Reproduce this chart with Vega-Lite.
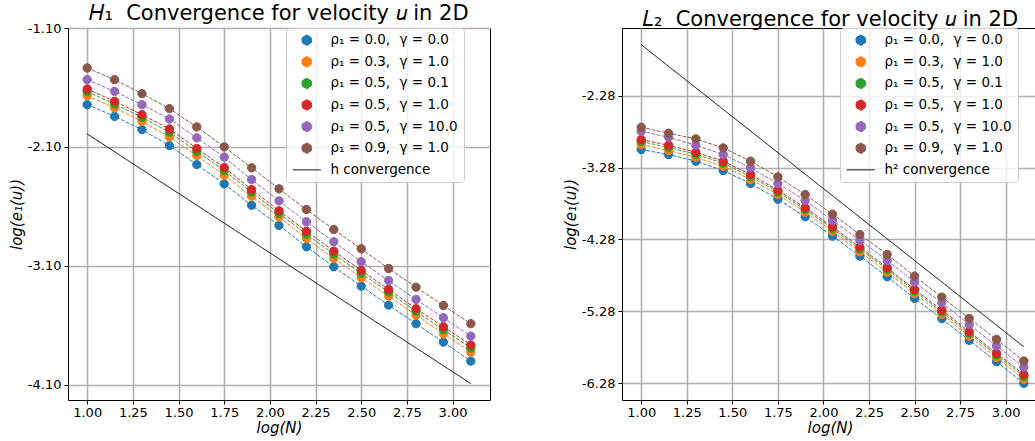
{
  "$schema": "https://vega.github.io/schema/vega-lite/v6.json",
  "padding": {"left": 8, "top": 2, "right": 0, "bottom": 0},
  "background": "white",
  "config": {
    "font": "DejaVu Sans",
    "view": {"stroke": "black", "strokeWidth": 1},
    "axis": {"grid": true, "gridColor": "#b0b0b0", "gridWidth": 1.6, "domain": false, "tickColor": "black", "tickSize": 4, "tickWidth": 1, "labelColor": "black", "labelFont": "DejaVu Sans", "labelFontSize": 13, "labelPadding": 2, "titleFont": "DejaVu Sans", "titleFontSize": 15, "titleFontWeight": "normal", "titleFontStyle": "italic", "titleColor": "black", "labelFlush": false, "labelOverlap": false},
    "axisY": {"labelPadding": 3, "minExtent": 40, "maxExtent": 40, "titlePadding": 4},
    "axisX": {"titlePadding": 1},
    "title": {"font": "DejaVu Sans", "fontSize": 21, "fontWeight": "normal", "color": "black", "offset": -2, "anchor": "middle"},
    "legend": {"orient": "none", "legendX": 218, "legendY": 0, "padding": 5.5, "fillColor": "rgba(255,255,255,0.8)", "strokeColor": "#cccccc", "strokeWidth": 1, "cornerRadius": 3, "labelFont": "DejaVu Sans", "labelFontSize": 13.5, "labelColor": "black", "labelOffset": 17, "labelLimit": 300, "symbolSize": 100, "symbolStrokeWidth": 1, "symbolOffset": 8.5, "rowPadding": 6.6}
  },
  "data": {"values": [
    {"panel":"H1","series":"ρ₁ = 0.0,\u2002\u2009γ = 0.0","x":1.0,"y":-1.745},{"panel":"H1","series":"ρ₁ = 0.0,\u2002\u2009γ = 0.0","x":1.15,"y":-1.843},{"panel":"H1","series":"ρ₁ = 0.0,\u2002\u2009γ = 0.0","x":1.3,"y":-1.955},{"panel":"H1","series":"ρ₁ = 0.0,\u2002\u2009γ = 0.0","x":1.45,"y":-2.089},{"panel":"H1","series":"ρ₁ = 0.0,\u2002\u2009γ = 0.0","x":1.6,"y":-2.249},{"panel":"H1","series":"ρ₁ = 0.0,\u2002\u2009γ = 0.0","x":1.75,"y":-2.411},{"panel":"H1","series":"ρ₁ = 0.0,\u2002\u2009γ = 0.0","x":1.9,"y":-2.591},{"panel":"H1","series":"ρ₁ = 0.0,\u2002\u2009γ = 0.0","x":2.05,"y":-2.76},{"panel":"H1","series":"ρ₁ = 0.0,\u2002\u2009γ = 0.0","x":2.2,"y":-2.94},{"panel":"H1","series":"ρ₁ = 0.0,\u2002\u2009γ = 0.0","x":2.35,"y":-3.108},{"panel":"H1","series":"ρ₁ = 0.0,\u2002\u2009γ = 0.0","x":2.5,"y":-3.271},{"panel":"H1","series":"ρ₁ = 0.0,\u2002\u2009γ = 0.0","x":2.65,"y":-3.431},{"panel":"H1","series":"ρ₁ = 0.0,\u2002\u2009γ = 0.0","x":2.8,"y":-3.587},{"panel":"H1","series":"ρ₁ = 0.0,\u2002\u2009γ = 0.0","x":2.95,"y":-3.742},{"panel":"H1","series":"ρ₁ = 0.0,\u2002\u2009γ = 0.0","x":3.1,"y":-3.902},
    {"panel":"H1","series":"ρ₁ = 0.3,\u2002\u2009γ = 1.0","x":1.0,"y":-1.669},{"panel":"H1","series":"ρ₁ = 0.3,\u2002\u2009γ = 1.0","x":1.15,"y":-1.772},{"panel":"H1","series":"ρ₁ = 0.3,\u2002\u2009γ = 1.0","x":1.3,"y":-1.885},{"panel":"H1","series":"ρ₁ = 0.3,\u2002\u2009γ = 1.0","x":1.45,"y":-2.016},{"panel":"H1","series":"ρ₁ = 0.3,\u2002\u2009γ = 1.0","x":1.6,"y":-2.173},{"panel":"H1","series":"ρ₁ = 0.3,\u2002\u2009γ = 1.0","x":1.75,"y":-2.339},{"panel":"H1","series":"ρ₁ = 0.3,\u2002\u2009γ = 1.0","x":1.9,"y":-2.515},{"panel":"H1","series":"ρ₁ = 0.3,\u2002\u2009γ = 1.0","x":2.05,"y":-2.69},{"panel":"H1","series":"ρ₁ = 0.3,\u2002\u2009γ = 1.0","x":2.2,"y":-2.871},{"panel":"H1","series":"ρ₁ = 0.3,\u2002\u2009γ = 1.0","x":2.35,"y":-3.039},{"panel":"H1","series":"ρ₁ = 0.3,\u2002\u2009γ = 1.0","x":2.5,"y":-3.201},{"panel":"H1","series":"ρ₁ = 0.3,\u2002\u2009γ = 1.0","x":2.65,"y":-3.355},{"panel":"H1","series":"ρ₁ = 0.3,\u2002\u2009γ = 1.0","x":2.8,"y":-3.515},{"panel":"H1","series":"ρ₁ = 0.3,\u2002\u2009γ = 1.0","x":2.95,"y":-3.672},{"panel":"H1","series":"ρ₁ = 0.3,\u2002\u2009γ = 1.0","x":3.1,"y":-3.826},
    {"panel":"H1","series":"ρ₁ = 0.5,\u2002\u2009γ = 0.1","x":1.0,"y":-1.635},{"panel":"H1","series":"ρ₁ = 0.5,\u2002\u2009γ = 0.1","x":1.15,"y":-1.739},{"panel":"H1","series":"ρ₁ = 0.5,\u2002\u2009γ = 0.1","x":1.3,"y":-1.851},{"panel":"H1","series":"ρ₁ = 0.5,\u2002\u2009γ = 0.1","x":1.45,"y":-1.976},{"panel":"H1","series":"ρ₁ = 0.5,\u2002\u2009γ = 0.1","x":1.6,"y":-2.138},{"panel":"H1","series":"ρ₁ = 0.5,\u2002\u2009γ = 0.1","x":1.75,"y":-2.299},{"panel":"H1","series":"ρ₁ = 0.5,\u2002\u2009γ = 0.1","x":1.9,"y":-2.481},{"panel":"H1","series":"ρ₁ = 0.5,\u2002\u2009γ = 0.1","x":2.05,"y":-2.659},{"panel":"H1","series":"ρ₁ = 0.5,\u2002\u2009γ = 0.1","x":2.2,"y":-2.834},{"panel":"H1","series":"ρ₁ = 0.5,\u2002\u2009γ = 0.1","x":2.35,"y":-3.002},{"panel":"H1","series":"ρ₁ = 0.5,\u2002\u2009γ = 0.1","x":2.5,"y":-3.164},{"panel":"H1","series":"ρ₁ = 0.5,\u2002\u2009γ = 0.1","x":2.65,"y":-3.321},{"panel":"H1","series":"ρ₁ = 0.5,\u2002\u2009γ = 0.1","x":2.8,"y":-3.483},{"panel":"H1","series":"ρ₁ = 0.5,\u2002\u2009γ = 0.1","x":2.95,"y":-3.637},{"panel":"H1","series":"ρ₁ = 0.5,\u2002\u2009γ = 0.1","x":3.1,"y":-3.791},
    {"panel":"H1","series":"ρ₁ = 0.5,\u2002\u2009γ = 1.0","x":1.0,"y":-1.613},{"panel":"H1","series":"ρ₁ = 0.5,\u2002\u2009γ = 1.0","x":1.15,"y":-1.717},{"panel":"H1","series":"ρ₁ = 0.5,\u2002\u2009γ = 1.0","x":1.3,"y":-1.829},{"panel":"H1","series":"ρ₁ = 0.5,\u2002\u2009γ = 1.0","x":1.45,"y":-1.949},{"panel":"H1","series":"ρ₁ = 0.5,\u2002\u2009γ = 1.0","x":1.6,"y":-2.114},{"panel":"H1","series":"ρ₁ = 0.5,\u2002\u2009γ = 1.0","x":1.75,"y":-2.273},{"panel":"H1","series":"ρ₁ = 0.5,\u2002\u2009γ = 1.0","x":1.9,"y":-2.459},{"panel":"H1","series":"ρ₁ = 0.5,\u2002\u2009γ = 1.0","x":2.05,"y":-2.638},{"panel":"H1","series":"ρ₁ = 0.5,\u2002\u2009γ = 1.0","x":2.2,"y":-2.809},{"panel":"H1","series":"ρ₁ = 0.5,\u2002\u2009γ = 1.0","x":2.35,"y":-2.977},{"panel":"H1","series":"ρ₁ = 0.5,\u2002\u2009γ = 1.0","x":2.5,"y":-3.139},{"panel":"H1","series":"ρ₁ = 0.5,\u2002\u2009γ = 1.0","x":2.65,"y":-3.299},{"panel":"H1","series":"ρ₁ = 0.5,\u2002\u2009γ = 1.0","x":2.8,"y":-3.461},{"panel":"H1","series":"ρ₁ = 0.5,\u2002\u2009γ = 1.0","x":2.95,"y":-3.613},{"panel":"H1","series":"ρ₁ = 0.5,\u2002\u2009γ = 1.0","x":3.1,"y":-3.767},
    {"panel":"H1","series":"ρ₁ = 0.5,\u2002\u2009γ = 10.0","x":1.0,"y":-1.534},{"panel":"H1","series":"ρ₁ = 0.5,\u2002\u2009γ = 10.0","x":1.15,"y":-1.633},{"panel":"H1","series":"ρ₁ = 0.5,\u2002\u2009γ = 10.0","x":1.3,"y":-1.745},{"panel":"H1","series":"ρ₁ = 0.5,\u2002\u2009γ = 10.0","x":1.45,"y":-1.865},{"panel":"H1","series":"ρ₁ = 0.5,\u2002\u2009γ = 10.0","x":1.6,"y":-2.024},{"panel":"H1","series":"ρ₁ = 0.5,\u2002\u2009γ = 10.0","x":1.75,"y":-2.186},{"panel":"H1","series":"ρ₁ = 0.5,\u2002\u2009γ = 10.0","x":1.9,"y":-2.375},{"panel":"H1","series":"ρ₁ = 0.5,\u2002\u2009γ = 10.0","x":2.05,"y":-2.554},{"panel":"H1","series":"ρ₁ = 0.5,\u2002\u2009γ = 10.0","x":2.2,"y":-2.73},{"panel":"H1","series":"ρ₁ = 0.5,\u2002\u2009γ = 10.0","x":2.35,"y":-2.898},{"panel":"H1","series":"ρ₁ = 0.5,\u2002\u2009γ = 10.0","x":2.5,"y":-3.066},{"panel":"H1","series":"ρ₁ = 0.5,\u2002\u2009γ = 10.0","x":2.65,"y":-3.224},{"panel":"H1","series":"ρ₁ = 0.5,\u2002\u2009γ = 10.0","x":2.8,"y":-3.383},{"panel":"H1","series":"ρ₁ = 0.5,\u2002\u2009γ = 10.0","x":2.95,"y":-3.537},{"panel":"H1","series":"ρ₁ = 0.5,\u2002\u2009γ = 10.0","x":3.1,"y":-3.692},
    {"panel":"H1","series":"ρ₁ = 0.9,\u2002\u2009γ = 1.0","x":1.0,"y":-1.436},{"panel":"H1","series":"ρ₁ = 0.9,\u2002\u2009γ = 1.0","x":1.15,"y":-1.534},{"panel":"H1","series":"ρ₁ = 0.9,\u2002\u2009γ = 1.0","x":1.3,"y":-1.652},{"panel":"H1","series":"ρ₁ = 0.9,\u2002\u2009γ = 1.0","x":1.45,"y":-1.778},{"panel":"H1","series":"ρ₁ = 0.9,\u2002\u2009γ = 1.0","x":1.6,"y":-1.932},{"panel":"H1","series":"ρ₁ = 0.9,\u2002\u2009γ = 1.0","x":1.75,"y":-2.1},{"panel":"H1","series":"ρ₁ = 0.9,\u2002\u2009γ = 1.0","x":1.9,"y":-2.276},{"panel":"H1","series":"ρ₁ = 0.9,\u2002\u2009γ = 1.0","x":2.05,"y":-2.453},{"panel":"H1","series":"ρ₁ = 0.9,\u2002\u2009γ = 1.0","x":2.2,"y":-2.627},{"panel":"H1","series":"ρ₁ = 0.9,\u2002\u2009γ = 1.0","x":2.35,"y":-2.795},{"panel":"H1","series":"ρ₁ = 0.9,\u2002\u2009γ = 1.0","x":2.5,"y":-2.957},{"panel":"H1","series":"ρ₁ = 0.9,\u2002\u2009γ = 1.0","x":2.65,"y":-3.123},{"panel":"H1","series":"ρ₁ = 0.9,\u2002\u2009γ = 1.0","x":2.8,"y":-3.28},{"panel":"H1","series":"ρ₁ = 0.9,\u2002\u2009γ = 1.0","x":2.95,"y":-3.434},{"panel":"H1","series":"ρ₁ = 0.9,\u2002\u2009γ = 1.0","x":3.1,"y":-3.587},
    {"panel":"H1","series":"h convergence","x":1.0,"y":-1.991},{"panel":"H1","series":"h convergence","x":3.1,"y":-4.091},
    {"panel":"L2","series":"ρ₁ = 0.0,\u2002\u2009γ = 0.0","x":1.0,"y":-3.03},{"panel":"L2","series":"ρ₁ = 0.0,\u2002\u2009γ = 0.0","x":1.15,"y":-3.099},{"panel":"L2","series":"ρ₁ = 0.0,\u2002\u2009γ = 0.0","x":1.3,"y":-3.192},{"panel":"L2","series":"ρ₁ = 0.0,\u2002\u2009γ = 0.0","x":1.45,"y":-3.322},{"panel":"L2","series":"ρ₁ = 0.0,\u2002\u2009γ = 0.0","x":1.6,"y":-3.502},{"panel":"L2","series":"ρ₁ = 0.0,\u2002\u2009γ = 0.0","x":1.75,"y":-3.72},{"panel":"L2","series":"ρ₁ = 0.0,\u2002\u2009γ = 0.0","x":1.9,"y":-3.965},{"panel":"L2","series":"ρ₁ = 0.0,\u2002\u2009γ = 0.0","x":2.05,"y":-4.234},{"panel":"L2","series":"ρ₁ = 0.0,\u2002\u2009γ = 0.0","x":2.2,"y":-4.512},{"panel":"L2","series":"ρ₁ = 0.0,\u2002\u2009γ = 0.0","x":2.35,"y":-4.798},{"panel":"L2","series":"ρ₁ = 0.0,\u2002\u2009γ = 0.0","x":2.5,"y":-5.099},{"panel":"L2","series":"ρ₁ = 0.0,\u2002\u2009γ = 0.0","x":2.65,"y":-5.381},{"panel":"L2","series":"ρ₁ = 0.0,\u2002\u2009γ = 0.0","x":2.8,"y":-5.683},{"panel":"L2","series":"ρ₁ = 0.0,\u2002\u2009γ = 0.0","x":2.95,"y":-5.979},{"panel":"L2","series":"ρ₁ = 0.0,\u2002\u2009γ = 0.0","x":3.1,"y":-6.28},
    {"panel":"L2","series":"ρ₁ = 0.3,\u2002\u2009γ = 1.0","x":1.0,"y":-2.961},{"panel":"L2","series":"ρ₁ = 0.3,\u2002\u2009γ = 1.0","x":1.15,"y":-3.044},{"panel":"L2","series":"ρ₁ = 0.3,\u2002\u2009γ = 1.0","x":1.3,"y":-3.137},{"panel":"L2","series":"ρ₁ = 0.3,\u2002\u2009γ = 1.0","x":1.45,"y":-3.262},{"panel":"L2","series":"ρ₁ = 0.3,\u2002\u2009γ = 1.0","x":1.6,"y":-3.447},{"panel":"L2","series":"ρ₁ = 0.3,\u2002\u2009γ = 1.0","x":1.75,"y":-3.655},{"panel":"L2","series":"ρ₁ = 0.3,\u2002\u2009γ = 1.0","x":1.9,"y":-3.901},{"panel":"L2","series":"ρ₁ = 0.3,\u2002\u2009γ = 1.0","x":2.05,"y":-4.165},{"panel":"L2","series":"ρ₁ = 0.3,\u2002\u2009γ = 1.0","x":2.2,"y":-4.451},{"panel":"L2","series":"ρ₁ = 0.3,\u2002\u2009γ = 1.0","x":2.35,"y":-4.734},{"panel":"L2","series":"ρ₁ = 0.3,\u2002\u2009γ = 1.0","x":2.5,"y":-5.034},{"panel":"L2","series":"ρ₁ = 0.3,\u2002\u2009γ = 1.0","x":2.65,"y":-5.322},{"panel":"L2","series":"ρ₁ = 0.3,\u2002\u2009γ = 1.0","x":2.8,"y":-5.623},{"panel":"L2","series":"ρ₁ = 0.3,\u2002\u2009γ = 1.0","x":2.95,"y":-5.923},{"panel":"L2","series":"ρ₁ = 0.3,\u2002\u2009γ = 1.0","x":3.1,"y":-6.224},
    {"panel":"L2","series":"ρ₁ = 0.5,\u2002\u2009γ = 0.1","x":1.0,"y":-2.919},{"panel":"L2","series":"ρ₁ = 0.5,\u2002\u2009γ = 0.1","x":1.15,"y":-3.0},{"panel":"L2","series":"ρ₁ = 0.5,\u2002\u2009γ = 0.1","x":1.3,"y":-3.095},{"panel":"L2","series":"ρ₁ = 0.5,\u2002\u2009γ = 0.1","x":1.45,"y":-3.22},{"panel":"L2","series":"ρ₁ = 0.5,\u2002\u2009γ = 0.1","x":1.6,"y":-3.405},{"panel":"L2","series":"ρ₁ = 0.5,\u2002\u2009γ = 0.1","x":1.75,"y":-3.619},{"panel":"L2","series":"ρ₁ = 0.5,\u2002\u2009γ = 0.1","x":1.9,"y":-3.864},{"panel":"L2","series":"ρ₁ = 0.5,\u2002\u2009γ = 0.1","x":2.05,"y":-4.128},{"panel":"L2","series":"ρ₁ = 0.5,\u2002\u2009γ = 0.1","x":2.2,"y":-4.413},{"panel":"L2","series":"ρ₁ = 0.5,\u2002\u2009γ = 0.1","x":2.35,"y":-4.697},{"panel":"L2","series":"ρ₁ = 0.5,\u2002\u2009γ = 0.1","x":2.5,"y":-4.998},{"panel":"L2","series":"ρ₁ = 0.5,\u2002\u2009γ = 0.1","x":2.65,"y":-5.286},{"panel":"L2","series":"ρ₁ = 0.5,\u2002\u2009γ = 0.1","x":2.8,"y":-5.586},{"panel":"L2","series":"ρ₁ = 0.5,\u2002\u2009γ = 0.1","x":2.95,"y":-5.887},{"panel":"L2","series":"ρ₁ = 0.5,\u2002\u2009γ = 0.1","x":3.1,"y":-6.183},
    {"panel":"L2","series":"ρ₁ = 0.5,\u2002\u2009γ = 1.0","x":1.0,"y":-2.891},{"panel":"L2","series":"ρ₁ = 0.5,\u2002\u2009γ = 1.0","x":1.15,"y":-2.97},{"panel":"L2","series":"ρ₁ = 0.5,\u2002\u2009γ = 1.0","x":1.3,"y":-3.067},{"panel":"L2","series":"ρ₁ = 0.5,\u2002\u2009γ = 1.0","x":1.45,"y":-3.192},{"panel":"L2","series":"ρ₁ = 0.5,\u2002\u2009γ = 1.0","x":1.6,"y":-3.377},{"panel":"L2","series":"ρ₁ = 0.5,\u2002\u2009γ = 1.0","x":1.75,"y":-3.595},{"panel":"L2","series":"ρ₁ = 0.5,\u2002\u2009γ = 1.0","x":1.9,"y":-3.84},{"panel":"L2","series":"ρ₁ = 0.5,\u2002\u2009γ = 1.0","x":2.05,"y":-4.104},{"panel":"L2","series":"ρ₁ = 0.5,\u2002\u2009γ = 1.0","x":2.2,"y":-4.387},{"panel":"L2","series":"ρ₁ = 0.5,\u2002\u2009γ = 1.0","x":2.35,"y":-4.673},{"panel":"L2","series":"ρ₁ = 0.5,\u2002\u2009γ = 1.0","x":2.5,"y":-4.974},{"panel":"L2","series":"ρ₁ = 0.5,\u2002\u2009γ = 1.0","x":2.65,"y":-5.262},{"panel":"L2","series":"ρ₁ = 0.5,\u2002\u2009γ = 1.0","x":2.8,"y":-5.562},{"panel":"L2","series":"ρ₁ = 0.5,\u2002\u2009γ = 1.0","x":2.95,"y":-5.863},{"panel":"L2","series":"ρ₁ = 0.5,\u2002\u2009γ = 1.0","x":3.1,"y":-6.155},
    {"panel":"L2","series":"ρ₁ = 0.5,\u2002\u2009γ = 10.0","x":1.0,"y":-2.776},{"panel":"L2","series":"ρ₁ = 0.5,\u2002\u2009γ = 10.0","x":1.15,"y":-2.859},{"panel":"L2","series":"ρ₁ = 0.5,\u2002\u2009γ = 10.0","x":1.3,"y":-2.97},{"panel":"L2","series":"ρ₁ = 0.5,\u2002\u2009γ = 10.0","x":1.45,"y":-3.099},{"panel":"L2","series":"ρ₁ = 0.5,\u2002\u2009γ = 10.0","x":1.6,"y":-3.284},{"panel":"L2","series":"ρ₁ = 0.5,\u2002\u2009γ = 10.0","x":1.75,"y":-3.502},{"panel":"L2","series":"ρ₁ = 0.5,\u2002\u2009γ = 10.0","x":1.9,"y":-3.738},{"panel":"L2","series":"ρ₁ = 0.5,\u2002\u2009γ = 10.0","x":2.05,"y":-4.016},{"panel":"L2","series":"ρ₁ = 0.5,\u2002\u2009γ = 10.0","x":2.2,"y":-4.29},{"panel":"L2","series":"ρ₁ = 0.5,\u2002\u2009γ = 10.0","x":2.35,"y":-4.572},{"panel":"L2","series":"ρ₁ = 0.5,\u2002\u2009γ = 10.0","x":2.5,"y":-4.873},{"panel":"L2","series":"ρ₁ = 0.5,\u2002\u2009γ = 10.0","x":2.65,"y":-5.16},{"panel":"L2","series":"ρ₁ = 0.5,\u2002\u2009γ = 10.0","x":2.8,"y":-5.461},{"panel":"L2","series":"ρ₁ = 0.5,\u2002\u2009γ = 10.0","x":2.95,"y":-5.762},{"panel":"L2","series":"ρ₁ = 0.5,\u2002\u2009γ = 10.0","x":3.1,"y":-6.054},
    {"panel":"L2","series":"ρ₁ = 0.9,\u2002\u2009γ = 1.0","x":1.0,"y":-2.72},{"panel":"L2","series":"ρ₁ = 0.9,\u2002\u2009γ = 1.0","x":1.15,"y":-2.803},{"panel":"L2","series":"ρ₁ = 0.9,\u2002\u2009γ = 1.0","x":1.3,"y":-2.882},{"panel":"L2","series":"ρ₁ = 0.9,\u2002\u2009γ = 1.0","x":1.45,"y":-3.007},{"panel":"L2","series":"ρ₁ = 0.9,\u2002\u2009γ = 1.0","x":1.6,"y":-3.192},{"panel":"L2","series":"ρ₁ = 0.9,\u2002\u2009γ = 1.0","x":1.75,"y":-3.409},{"panel":"L2","series":"ρ₁ = 0.9,\u2002\u2009γ = 1.0","x":1.9,"y":-3.655},{"panel":"L2","series":"ρ₁ = 0.9,\u2002\u2009γ = 1.0","x":2.05,"y":-3.928},{"panel":"L2","series":"ρ₁ = 0.9,\u2002\u2009γ = 1.0","x":2.2,"y":-4.211},{"panel":"L2","series":"ρ₁ = 0.9,\u2002\u2009γ = 1.0","x":2.35,"y":-4.488},{"panel":"L2","series":"ρ₁ = 0.9,\u2002\u2009γ = 1.0","x":2.5,"y":-4.79},{"panel":"L2","series":"ρ₁ = 0.9,\u2002\u2009γ = 1.0","x":2.65,"y":-5.081},{"panel":"L2","series":"ρ₁ = 0.9,\u2002\u2009γ = 1.0","x":2.8,"y":-5.377},{"panel":"L2","series":"ρ₁ = 0.9,\u2002\u2009γ = 1.0","x":2.95,"y":-5.669},{"panel":"L2","series":"ρ₁ = 0.9,\u2002\u2009γ = 1.0","x":3.1,"y":-5.97},
    {"panel":"L2","series":"h² convergence","x":1.0,"y":-1.572},{"panel":"L2","series":"h² convergence","x":3.1,"y":-5.772}
  ]},
  "spacing": 71,
  "resolve": {"scale": {"fill": "independent", "stroke": "independent", "shape": "independent", "strokeDash": "independent", "x": "independent", "y": "independent"}, "legend": {"fill": "independent", "stroke": "independent", "shape": "independent"}},
  "hconcat": [
    {
      "title": "𝐻₁\u00a0 Convergence for velocity 𝑢 in 2D",
      "width": 422, "height": 372,
      "transform": [{"filter": "datum.panel === 'H1'"}],
      "encoding": {
        "x": {"field": "x", "type": "quantitative", "scale": {"domain": [0.895, 3.205], "nice": false, "zero": false}, "axis": {"values": [1, 1.25, 1.5, 1.75, 2, 2.25, 2.5, 2.75, 3], "format": ".2f", "labelExpr": "replace(datum.label, '\u2212', '-')", "title": "log(N)"}},
        "y": {"field": "y", "type": "quantitative", "scale": {"domain": [-4.229, -1.1], "nice": false, "zero": false}, "axis": {"values": [-1.1, -2.1, -3.1, -4.1], "format": ".2f", "labelExpr": "replace(datum.label, '\u2212', '-')", "title": "log(e₁(u))"}}
      },
      "layer": [
        {
          "mark": {"type": "line", "strokeWidth": 1},
          "encoding": {
            "stroke": {"field": "series", "type": "nominal",
              "scale": {"domain": ["ρ₁ = 0.0,\u2002\u2009γ = 0.0", "ρ₁ = 0.3,\u2002\u2009γ = 1.0", "ρ₁ = 0.5,\u2002\u2009γ = 0.1", "ρ₁ = 0.5,\u2002\u2009γ = 1.0", "ρ₁ = 0.5,\u2002\u2009γ = 10.0", "ρ₁ = 0.9,\u2002\u2009γ = 1.0", "h convergence"], "range": ["#1f77b4", "#ff7f0e", "#2ca02c", "#d62728", "#9467bd", "#8c564b", "#000000"]},
              "legend": {"title": null}},
            "strokeDash": {"field": "series", "type": "nominal",
              "scale": {"domain": ["ρ₁ = 0.0,\u2002\u2009γ = 0.0", "ρ₁ = 0.3,\u2002\u2009γ = 1.0", "ρ₁ = 0.5,\u2002\u2009γ = 0.1", "ρ₁ = 0.5,\u2002\u2009γ = 1.0", "ρ₁ = 0.5,\u2002\u2009γ = 10.0", "ρ₁ = 0.9,\u2002\u2009γ = 1.0", "h convergence"], "range": [[3.7, 1.6], [3.7, 1.6], [3.7, 1.6], [3.7, 1.6], [3.7, 1.6], [3.7, 1.6], [1, 0]]},
              "legend": null}
          }
        },
        {
          "transform": [{"filter": "indexof(datum.series, 'convergence') < 0"}],
          "mark": {"type": "point", "filled": true, "size": 70, "strokeWidth": 1, "opacity": 1},
          "encoding": {
            "fill": {"field": "series", "type": "nominal",
              "scale": {"domain": ["ρ₁ = 0.0,\u2002\u2009γ = 0.0", "ρ₁ = 0.3,\u2002\u2009γ = 1.0", "ρ₁ = 0.5,\u2002\u2009γ = 0.1", "ρ₁ = 0.5,\u2002\u2009γ = 1.0", "ρ₁ = 0.5,\u2002\u2009γ = 10.0", "ρ₁ = 0.9,\u2002\u2009γ = 1.0", "h convergence"], "range": ["#1f77b4", "#ff7f0e", "#2ca02c", "#d62728", "#9467bd", "#8c564b", "#000000"]},
              "legend": {"title": null}},
            "stroke": {"field": "series", "type": "nominal", "legend": {"title": null}},
            "shape": {"field": "series", "type": "nominal",
              "scale": {"domain": ["ρ₁ = 0.0,\u2002\u2009γ = 0.0", "ρ₁ = 0.3,\u2002\u2009γ = 1.0", "ρ₁ = 0.5,\u2002\u2009γ = 0.1", "ρ₁ = 0.5,\u2002\u2009γ = 1.0", "ρ₁ = 0.5,\u2002\u2009γ = 10.0", "ρ₁ = 0.9,\u2002\u2009γ = 1.0", "h convergence"], "range": ["circle", "circle", "circle", "circle", "circle", "circle", "M-2.8,0H2.8"]},
              "legend": {"title": null}}
          }
        }
      ]
    },
    {
      "title": "𝐿₂\u00a0 Convergence for velocity 𝑢 in 2D",
      "width": 416, "height": 372,
      "transform": [{"filter": "datum.panel === 'L2'"}],
      "encoding": {
        "x": {"field": "x", "type": "quantitative", "scale": {"domain": [0.8945, 3.1777], "nice": false, "zero": false}, "axis": {"values": [1, 1.25, 1.5, 1.75, 2, 2.25, 2.5, 2.75, 3], "format": ".2f", "labelExpr": "replace(datum.label, '\u2212', '-')", "title": "log(N)"}},
        "y": {"field": "y", "type": "quantitative", "scale": {"domain": [-6.512, -1.34], "nice": false, "zero": false}, "axis": {"values": [-2.28, -3.28, -4.28, -5.28, -6.28], "format": ".2f", "labelExpr": "replace(datum.label, '\u2212', '-')", "title": "log(e₁(u))"}}
      },
      "layer": [
        {
          "mark": {"type": "line", "strokeWidth": 1},
          "encoding": {
            "stroke": {"field": "series", "type": "nominal",
              "scale": {"domain": ["ρ₁ = 0.0,\u2002\u2009γ = 0.0", "ρ₁ = 0.3,\u2002\u2009γ = 1.0", "ρ₁ = 0.5,\u2002\u2009γ = 0.1", "ρ₁ = 0.5,\u2002\u2009γ = 1.0", "ρ₁ = 0.5,\u2002\u2009γ = 10.0", "ρ₁ = 0.9,\u2002\u2009γ = 1.0", "h² convergence"], "range": ["#1f77b4", "#ff7f0e", "#2ca02c", "#d62728", "#9467bd", "#8c564b", "#000000"]},
              "legend": {"title": null}},
            "strokeDash": {"field": "series", "type": "nominal",
              "scale": {"domain": ["ρ₁ = 0.0,\u2002\u2009γ = 0.0", "ρ₁ = 0.3,\u2002\u2009γ = 1.0", "ρ₁ = 0.5,\u2002\u2009γ = 0.1", "ρ₁ = 0.5,\u2002\u2009γ = 1.0", "ρ₁ = 0.5,\u2002\u2009γ = 10.0", "ρ₁ = 0.9,\u2002\u2009γ = 1.0", "h² convergence"], "range": [[3.7, 1.6], [3.7, 1.6], [3.7, 1.6], [3.7, 1.6], [3.7, 1.6], [3.7, 1.6], [1, 0]]},
              "legend": null}
          }
        },
        {
          "transform": [{"filter": "indexof(datum.series, 'convergence') < 0"}],
          "mark": {"type": "point", "filled": true, "size": 70, "strokeWidth": 1, "opacity": 1},
          "encoding": {
            "fill": {"field": "series", "type": "nominal",
              "scale": {"domain": ["ρ₁ = 0.0,\u2002\u2009γ = 0.0", "ρ₁ = 0.3,\u2002\u2009γ = 1.0", "ρ₁ = 0.5,\u2002\u2009γ = 0.1", "ρ₁ = 0.5,\u2002\u2009γ = 1.0", "ρ₁ = 0.5,\u2002\u2009γ = 10.0", "ρ₁ = 0.9,\u2002\u2009γ = 1.0", "h² convergence"], "range": ["#1f77b4", "#ff7f0e", "#2ca02c", "#d62728", "#9467bd", "#8c564b", "#000000"]},
              "legend": {"title": null}},
            "stroke": {"field": "series", "type": "nominal", "legend": {"title": null}},
            "shape": {"field": "series", "type": "nominal",
              "scale": {"domain": ["ρ₁ = 0.0,\u2002\u2009γ = 0.0", "ρ₁ = 0.3,\u2002\u2009γ = 1.0", "ρ₁ = 0.5,\u2002\u2009γ = 0.1", "ρ₁ = 0.5,\u2002\u2009γ = 1.0", "ρ₁ = 0.5,\u2002\u2009γ = 10.0", "ρ₁ = 0.9,\u2002\u2009γ = 1.0", "h² convergence"], "range": ["circle", "circle", "circle", "circle", "circle", "circle", "M-2.8,0H2.8"]},
              "legend": {"title": null}}
          }
        }
      ]
    }
  ]
}
